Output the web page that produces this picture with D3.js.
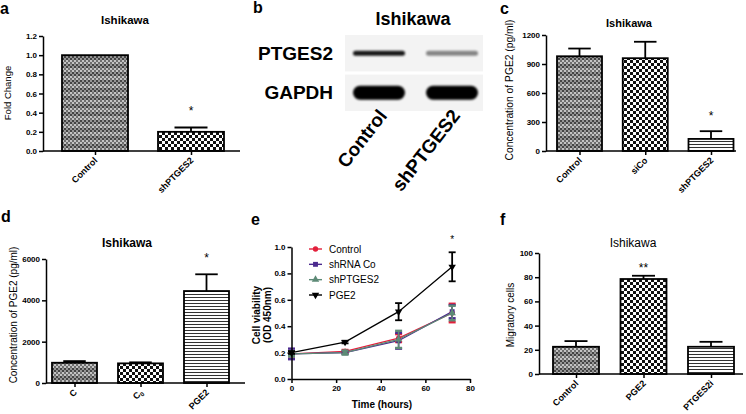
<!DOCTYPE html>
<html><head><meta charset="utf-8">
<script src="https://cdn.jsdelivr.net/npm/d3@7"></script>
<style>
body{margin:0;background:#fff}
svg{display:block}
text{font-family:"Liberation Sans",Arial,Helvetica,sans-serif;fill:#000}
</style>
</head><body>
<svg id="chart" width="746" height="414"></svg>
<script>
// ---------- DATA ----------
const aCategories = ["Control", "shPTGES2"];
const aValues = [1.0, 0.20];
const aErrors = [0, 0.045];
const aTicks = [0, 0.2, 0.4, 0.6, 0.8, 1.0, 1.2];
const aStars = ["", "*"];

const bLanes = ["Control", "shPTGES2"];
const bProteins = ["PTGES2", "GAPDH"];
const bPtges2Intensity = [0.9, 0.45];
const bGapdhIntensity = [1.0, 1.0];

const cCategories = ["Control", "siCo", "shPTGES2"];
const cValues = [980, 960, 125];
const cErrors = [80, 170, 80];
const cTicks = [0, 300, 600, 900, 1200];
const cStars = ["", "", "*"];

const dCategories = ["C", "C0", "PGE2"];
const dValues = [980, 950, 4450];
const dErrors = [80, 50, 810];
const dTicks = [0, 2000, 4000, 6000];
const dStars = ["", "", "*"];

const eHours = [0, 24, 48, 72];
const eSeriesNames = ["Control", "shRNA Co", "shPTGES2", "PGE2"];
const eControl = [0.19, 0.21, 0.31, 0.50];
const eControlErr = [0.02, 0.01, 0.03, 0.07];
const eShRNACo = [0.19, 0.20, 0.29, 0.51];
const eShRNACoErr = [0.04, 0.01, 0.06, 0.05];
const eShPTGES2 = [0.19, 0.20, 0.30, 0.50];
const eShPTGES2Err = [0.02, 0.015, 0.065, 0.055];
const ePGE2 = [0.20, 0.28, 0.51, 0.85];
const ePGE2Err = [0.01, 0.01, 0.065, 0.11];
const eYTicks = [0, 0.2, 0.4, 0.6, 0.8, 1.0];
const eXTicks = [0, 20, 40, 60, 80];
const eStars = ["", "", "", "*"];

const fCategories = ["Control", "PGE2", "PTGES2i"];
const fValues = [22.5, 78.5, 22.5];
const fErrors = [4.7, 2.7, 4.1];
const fTicks = [0, 20, 40, 60, 80, 100];
const fStars = ["", "**", ""];

// ---------- SETUP ----------
const svg = d3.select("#chart");
const defs = svg.append("defs");

// gray banded fine checker
const pg = defs.append("pattern").attr("id", "pGray").attr("patternUnits", "userSpaceOnUse")
  .attr("width", 4).attr("height", 8);
pg.append("rect").attr("width", 4).attr("height", 4).attr("fill", "#969696");
pg.append("rect").attr("y", 4).attr("width", 4).attr("height", 4).attr("fill", "#c4c4c4");
[[0,0,"#444"],[2,2,"#444"],[0,4,"#6e6e6e"],[2,6,"#6e6e6e"]].forEach(([x,y,c]) =>
  pg.append("rect").attr("x", x).attr("y", y).attr("width", 2).attr("height", 2).attr("fill", c));

// coarse black/white checker
const pc = defs.append("pattern").attr("id", "pCheck").attr("patternUnits", "userSpaceOnUse")
  .attr("width", 6).attr("height", 6);
pc.append("rect").attr("width", 6).attr("height", 6).attr("fill", "#fff");
pc.append("rect").attr("width", 3).attr("height", 3).attr("fill", "#111");
pc.append("rect").attr("x", 3).attr("y", 3).attr("width", 3).attr("height", 3).attr("fill", "#111");

// horizontal lines
const ph = defs.append("pattern").attr("id", "pLines").attr("patternUnits", "userSpaceOnUse")
  .attr("width", 4).attr("height", 3);
ph.append("rect").attr("width", 4).attr("height", 3).attr("fill", "#fff");
ph.append("rect").attr("width", 4).attr("height", 1).attr("fill", "#333");

const blur = defs.append("filter").attr("id", "blur").attr("x", "-20%").attr("y", "-50%")
  .attr("width", "140%").attr("height", "200%");
blur.append("feGaussianBlur").attr("stdDeviation", 0.9);

const patterns = ["url(#pGray)", "url(#pCheck)", "url(#pLines)"];

function styleAxis(g, size) {
  g.select(".domain").attr("stroke", "#000").attr("stroke-width", 1.5);
  g.selectAll(".tick line").attr("stroke", "#000").attr("stroke-width", 1.5);
  g.selectAll(".tick text").attr("font-size", size).attr("font-weight", "bold")
    .attr("font-family", "Liberation Sans, Arial, sans-serif");
}

function panelLetter(t, x, y) {
  svg.append("text").attr("x", x).attr("y", y).attr("font-size", 16).attr("font-weight", "bold").text(t);
}

function barPanel(o) {
  const g = svg.append("g");
  const y = d3.scaleLinear().domain([0, d3.max(o.ticks)]).range([o.yBottom, o.yTop]);
  const x = d3.scalePoint().domain(o.cats).range([o.c0, o.c1]);
  const bw = o.barW;

  g.append("text").attr("x", o.titleX).attr("y", o.titleY).attr("text-anchor", "middle")
    .attr("font-size", o.titleSize).attr("font-weight", o.titleWeight).text("Ishikawa");

  const capW = bw * 0.5;
  o.cats.forEach((c, i) => {
    if (!o.errs[i]) return;
    const v = o.values[i], e = o.errs[i];
    g.append("line").attr("x1", x(c)).attr("x2", x(c)).attr("y1", y(v)).attr("y2", y(v + e))
      .attr("stroke", "#000").attr("stroke-width", 1.8);
    g.append("line").attr("x1", x(c) - capW / 2).attr("x2", x(c) + capW / 2)
      .attr("y1", y(v + e)).attr("y2", y(v + e)).attr("stroke", "#000").attr("stroke-width", 1.8);
  });

  g.selectAll("rect.bar").data(o.cats).join("rect").attr("class", "bar")
    .attr("x", c => x(c) - bw / 2).attr("width", bw)
    .attr("y", (c, i) => y(o.values[i])).attr("height", (c, i) => o.yBottom - y(o.values[i]))
    .attr("fill", (c, i) => patterns[i]).attr("stroke", "#000").attr("stroke-width", 1.8);

  o.cats.forEach((c, i) => {
    if (!o.stars[i]) return;
    g.append("text").attr("x", x(c)).attr("y", o.starY).attr("text-anchor", "middle")
      .attr("font-size", 12).text(o.stars[i]);
  });

  const ya = g.append("g").attr("transform", `translate(${o.x0},0)`)
    .call(d3.axisLeft(y).tickValues(o.ticks).tickSize(4).tickSizeOuter(0).tickPadding(2)
      .tickFormat(o.tickFmt || (d => d)));
  styleAxis(ya, 8);

  g.append("line").attr("x1", o.x0).attr("x2", o.xEnd).attr("y1", o.yBottom).attr("y2", o.yBottom)
    .attr("stroke", "#000").attr("stroke-width", 1.5);
  const xa = g.append("g").attr("transform", `translate(0,${o.yBottom})`)
    .call(d3.axisBottom(x).tickSize(4).tickFormat(""));
  xa.select(".domain").remove();
  styleAxis(xa, 8);

  o.cats.forEach(c => {
    const t = g.append("text").attr("text-anchor", "end").attr("font-size", o.labelSize)
      .attr("font-weight", "bold")
      .attr("transform", `translate(${x(c) + 3},${o.yBottom + 10}) rotate(-45)`);
    if (c === "C0") {
      t.append("tspan").text("C");
      t.append("tspan").attr("font-size", o.labelSize * 0.7).attr("dy", 2).text("0");
    } else t.text(c);
  });

  g.append("text").attr("transform", `translate(${o.ylabelX},${o.ylabelY}) rotate(-90)`)
    .attr("text-anchor", "middle").attr("dominant-baseline", "central")
    .attr("font-size", o.ylabelSize).attr("font-weight", o.ylabelWeight || "normal").text(o.ylabel);
}

// ---------- PANEL A ----------
panelLetter("a", 0, 14);
barPanel({
  cats: aCategories, values: aValues, errs: aErrors, ticks: aTicks, stars: aStars,
  x0: 43, xEnd: 240, yBottom: 151, yTop: 36, c0: 95, c1: 191, barW: 66,
  titleX: 125, titleY: 24, titleSize: 11.5, titleWeight: "bold",
  ylabel: "Fold Change", ylabelX: 7, ylabelY: 93, ylabelSize: 9.5,
  labelSize: 9, starY: 115, tickFmt: d3.format(".1f")
});

// ---------- PANEL B (western blot) ----------
panelLetter("b", 253, 13);
svg.append("text").attr("x", 413).attr("y", 25).attr("text-anchor", "middle")
  .attr("font-size", 18).attr("font-weight", "bold").text("Ishikawa");
const laneX = d3.scalePoint().domain(bLanes).range([379, 452]);
const stripY = d3.scaleBand().domain(bProteins).range([35, 111]).paddingInner(0.08);
bProteins.forEach((p, k) => {
  svg.append("rect").attr("x", 345).attr("y", stripY(p)).attr("width", 138)
    .attr("height", stripY.bandwidth()).attr("fill", "#f3f3f3");
  svg.append("text").attr("x", 333).attr("y", stripY(p) + stripY.bandwidth() / 2)
    .attr("dominant-baseline", "central").attr("text-anchor", "end")
    .attr("font-size", 19).attr("font-weight", "bold").text(p);
});
bLanes.forEach((l, i) => {
  svg.append("rect").attr("x", laneX(l) - 26).attr("width", 52)
    .attr("y", stripY("PTGES2") + stripY.bandwidth() / 2 - 2.5).attr("height", 5).attr("rx", 2.5)
    .attr("fill", "#000").attr("opacity", bPtges2Intensity[i]).attr("filter", "url(#blur)");
  svg.append("rect").attr("x", laneX(l) - 26).attr("width", 52)
    .attr("y", stripY("GAPDH") + stripY.bandwidth() / 2 - 7).attr("height", 14).attr("rx", 7)
    .attr("fill", "#000").attr("opacity", bGapdhIntensity[i]).attr("filter", "url(#blur)");
  svg.append("text").attr("text-anchor", "end").attr("font-size", 19).attr("font-weight", "bold")
    .attr("transform", `translate(${laneX(l) + 9},${116}) rotate(-52)`).text(l);
});

// ---------- PANEL C ----------
panelLetter("c", 500, 14);
barPanel({
  cats: cCategories, values: cValues, errs: cErrors, ticks: cTicks, stars: cStars,
  x0: 546, xEnd: 736, yBottom: 151, yTop: 35, c0: 579.5, c1: 711, barW: 45,
  titleX: 629, titleY: 26.5, titleSize: 11, titleWeight: "bold",
  ylabel: "Concentration of PGE2 (pg/ml)", ylabelX: 509, ylabelY: 90, ylabelSize: 10.3,
  labelSize: 9, starY: 120
});

// ---------- PANEL D ----------
panelLetter("d", 1, 222);
barPanel({
  cats: dCategories, values: dValues, errs: dErrors, ticks: dTicks, stars: dStars,
  x0: 46, xEnd: 245, yBottom: 383, yTop: 259, c0: 74.5, c1: 206.5, barW: 45,
  titleX: 127, titleY: 246.5, titleSize: 12, titleWeight: "bold",
  ylabel: "Concentration of PGE2 (pg/ml)", ylabelX: 13, ylabelY: 315, ylabelSize: 10,
  labelSize: 9, starY: 262
});

// ---------- PANEL E ----------
panelLetter("e", 251, 225);
(function () {
  const g = svg.append("g");
  const x = d3.scaleLinear().domain([0, 80]).range([291.5, 470]);
  const y = d3.scaleLinear().domain([0, 1]).range([379, 247]);
  const series = [
    { name: eSeriesNames[0], v: eControl, e: eControlErr, color: "#e3203c", sym: d3.symbolCircle, rot: 0, size: 22 },
    { name: eSeriesNames[1], v: eShRNACo, e: eShRNACoErr, color: "#4b2a8e", sym: d3.symbolSquare, rot: 0, size: 24 },
    { name: eSeriesNames[2], v: eShPTGES2, e: eShPTGES2Err, color: "#5d8a76", sym: d3.symbolTriangle, rot: 0, size: 24 },
    { name: eSeriesNames[3], v: ePGE2, e: ePGE2Err, color: "#000", sym: d3.symbolTriangle, rot: 180, size: 24 }
  ];
  const line = d3.line().x((d, i) => x(eHours[i])).y(d => y(d));
  series.forEach(s => {
    g.append("path").attr("d", line(s.v)).attr("fill", "none").attr("stroke", s.color).attr("stroke-width", 1.3);
  });
  series.forEach(s => {
    s.v.forEach((v, i) => {
      const cx = x(eHours[i]);
      const lo = y(v - s.e[i]), hi = y(v + s.e[i]);
      const sw = s.name === "PGE2" ? 1.8 : 1.6;
      g.append("line").attr("x1", cx).attr("x2", cx).attr("y1", lo).attr("y2", hi)
        .attr("stroke", s.color).attr("stroke-width", sw);
      [lo, hi].forEach(yy => g.append("line").attr("x1", cx - 3.5).attr("x2", cx + 3.5)
        .attr("y1", yy).attr("y2", yy).attr("stroke", s.color).attr("stroke-width", s.name === "PGE2" ? 1.8 : 2.4));
      g.append("path").attr("d", d3.symbol().type(s.sym).size(s.size)())
        .attr("transform", `translate(${cx},${y(v)}) rotate(${s.rot})`).attr("fill", s.color);
    });
  });
  eHours.forEach((h, i) => {
    if (eStars[i]) g.append("text").attr("x", x(h)).attr("y", 243).attr("text-anchor", "middle")
      .attr("font-size", 10).text(eStars[i]);
  });
  const ya = g.append("g").attr("transform", `translate(${x(0)},0)`)
    .call(d3.axisLeft(y).tickValues(eYTicks).tickSize(4).tickSizeOuter(0).tickPadding(2).tickFormat(d3.format(".1f")));
  styleAxis(ya, 8);
  const xa = g.append("g").attr("transform", `translate(0,${y(0)})`)
    .call(d3.axisBottom(x).tickValues(eXTicks).tickSize(4).tickSizeOuter(0).tickPadding(2));
  styleAxis(xa, 8);
  const ly = d3.scalePoint().domain(eSeriesNames).range([249, 295]);
  series.forEach(s => {
    const yy = ly(s.name);
    g.append("line").attr("x1", 309).attr("x2", 322).attr("y1", yy).attr("y2", yy)
      .attr("stroke", s.color).attr("stroke-width", 1.4);
    g.append("path").attr("d", d3.symbol().type(s.sym).size(s.size)())
      .attr("transform", `translate(315.5,${yy}) rotate(${s.rot})`).attr("fill", s.color);
    g.append("text").attr("x", 329).attr("y", yy).attr("dominant-baseline", "central")
      .attr("font-size", 10).text(s.name);
  });
  g.append("text").attr("transform", "translate(256,315) rotate(-90)").attr("text-anchor", "middle")
    .attr("dominant-baseline", "central").attr("font-size", 10).attr("font-weight", "bold").text("Cell viability");
  g.append("text").attr("transform", "translate(267,315) rotate(-90)").attr("text-anchor", "middle")
    .attr("dominant-baseline", "central").attr("font-size", 10).attr("font-weight", "bold").text("(OD 450nm)");
  g.append("text").attr("x", 382).attr("y", 408).attr("text-anchor", "middle")
    .attr("font-size", 10).attr("font-weight", "bold").text("Time (hours)");
})();

// ---------- PANEL F ----------
panelLetter("f", 500, 225);
barPanel({
  cats: fCategories, values: fValues, errs: fErrors, ticks: fTicks, stars: fStars,
  x0: 539, xEnd: 743, yBottom: 374, yTop: 253, c0: 576, c1: 711, barW: 46,
  titleX: 633, titleY: 247, titleSize: 12, titleWeight: "normal",
  ylabel: "Migratory cells", ylabelX: 510, ylabelY: 315, ylabelSize: 10,
  labelSize: 9, starY: 272
});
</script>
</body></html>
